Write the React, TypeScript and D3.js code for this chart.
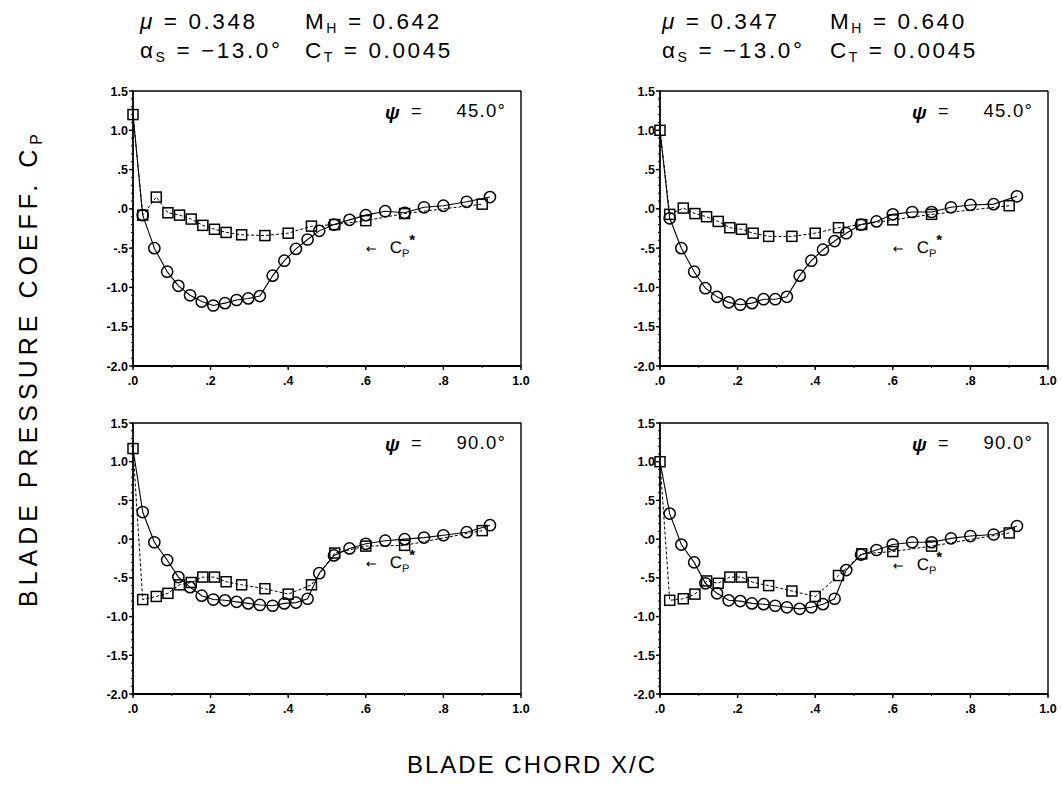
import React from "react";
import * as d3 from "d3";

// ---------- data ----------
const circleX = [0.025, 0.055, 0.088, 0.117, 0.147, 0.177, 0.207, 0.237, 0.267, 0.297, 0.327, 0.36, 0.39, 0.42, 0.45, 0.48, 0.518, 0.558, 0.6, 0.65, 0.7, 0.75, 0.8, 0.86, 0.92];
const squareX = [0.025, 0.06, 0.09, 0.12, 0.15, 0.18, 0.21, 0.24, 0.28, 0.34, 0.4, 0.46, 0.52, 0.6, 0.7, 0.9];

// psi = 45 deg
const circleCp45L = [-0.08, -0.5, -0.8, -0.98, -1.1, -1.18, -1.23, -1.2, -1.16, -1.14, -1.11, -0.85, -0.66, -0.51, -0.39, -0.28, -0.2, -0.14, -0.08, -0.03, -0.05, 0.02, 0.04, 0.09, 0.15];
const squareCp45L = [-0.08, 0.15, -0.05, -0.08, -0.13, -0.21, -0.26, -0.3, -0.33, -0.34, -0.31, -0.22, -0.2, -0.15, -0.06, 0.06];
const circleCp45R = [-0.12, -0.5, -0.8, -1.01, -1.12, -1.19, -1.22, -1.2, -1.15, -1.15, -1.12, -0.85, -0.66, -0.52, -0.41, -0.31, -0.2, -0.16, -0.07, -0.04, -0.04, 0.02, 0.05, 0.06, 0.16];
const squareCp45R = [-0.07, 0.01, -0.06, -0.1, -0.16, -0.24, -0.26, -0.31, -0.35, -0.35, -0.31, -0.24, -0.2, -0.14, -0.07, 0.04];

// psi = 90 deg
const circleCp90L = [0.35, -0.04, -0.27, -0.49, -0.62, -0.73, -0.78, -0.79, -0.81, -0.83, -0.85, -0.86, -0.83, -0.82, -0.77, -0.44, -0.21, -0.12, -0.06, -0.02, 0.0, 0.02, 0.05, 0.09, 0.18];
const squareCp90L = [-0.78, -0.74, -0.7, -0.59, -0.56, -0.49, -0.49, -0.55, -0.59, -0.64, -0.71, -0.59, -0.18, -0.09, -0.08, 0.11];
const circleCp90R = [0.33, -0.07, -0.3, -0.57, -0.7, -0.79, -0.8, -0.83, -0.84, -0.86, -0.88, -0.9, -0.88, -0.84, -0.77, -0.4, -0.2, -0.14, -0.07, -0.04, -0.04, 0.01, 0.04, 0.06, 0.17];
const squareCp90R = [-0.79, -0.77, -0.71, -0.54, -0.57, -0.49, -0.49, -0.56, -0.6, -0.67, -0.74, -0.47, -0.19, -0.16, -0.09, 0.08];

// leading-edge (x = 0) values: [45L, 45R, 90L, 90R]
const leadingEdgeCp = [1.2, 1.0, 1.17, 1.0];
// position of the "<- Cp*" note: [45L, 45R, 90L, 90R]
const cpStarCp = [-0.5, -0.5, -0.31, -0.33];
const cpStarX = 0.6;

const yTicks = [1.5, 1.0, 0.5, 0, -0.5, -1.0, -1.5, -2.0];
const xTicks = [0, 0.2, 0.4, 0.6, 0.8, 1.0];
const psiLabels = ["45.0°", "90.0°"];
const muLabels = ["0.348", "0.347"];
const mhLabels = ["0.642", "0.640"];
const alphaLabels = ["−13.0°", "−13.0°"];
const ctLabels = ["0.0045", "0.0045"];

// ---------- layout ----------
const W = 1062;
const H = 792;
const colX = [
  [133, 521],
  [660, 1048],
];
const rowY = [
  [91, 366],
  [423, 694],
];
const FONT = "'Liberation Sans', Arial, sans-serif";

function fmtY(v: number): string {
  if (v === 0) return ".0";
  const a = Math.abs(v);
  const s = a >= 1 ? a.toFixed(1) : a.toFixed(1).replace(/^0/, "");
  return (v < 0 ? "-" : "") + s;
}
function fmtX(v: number): string {
  if (v === 1) return "1.0";
  return v.toFixed(1).replace(/^0/, "");
}

type PanelProps = {
  col: number;
  row: number;
  circleCp: number[];
  squareCp: number[];
  le: number;
  psi: string;
  star: number;
};

function Panel({ col, row, circleCp, squareCp, le, psi, star }: PanelProps) {
  const [x0, x1] = colX[col];
  const [y0, y1] = rowY[row];
  const xs = d3.scaleLinear().domain([0, 1]).range([x0, x1]);
  const ys = d3.scaleLinear().domain([-2, 1.5]).range([y1, y0]);

  const circPts: [number, number][] = [[0, le], ...circleX.map((x, i) => [x, circleCp[i]] as [number, number])];
  const sqPts: [number, number][] = [[0, le], ...squareX.map((x, i) => [x, squareCp[i]] as [number, number])];
  const line = d3
    .line<[number, number]>()
    .x((d) => xs(d[0]))
    .y((d) => ys(d[1]));

  const yMinor = d3.range(-20, 16).map((i) => i / 10);
  const xMinor = d3.range(0, 11).map((i) => i / 10);

  return (
    <g>
      {/* frame */}
      <line x1={x0} y1={y0} x2={x1} y2={y0} stroke="#000" strokeWidth={1.4} />
      <line x1={x1} y1={y0} x2={x1} y2={y1} stroke="#000" strokeWidth={1.4} />
      <line x1={x0} y1={y0} x2={x0} y2={y1} stroke="#000" strokeWidth={1.8} />
      <line x1={x0} y1={y1} x2={x1} y2={y1} stroke="#000" strokeWidth={1.8} />
      {/* y ticks */}
      {yMinor.map((v) => (
        <line key={"ym" + v} x1={x0 - 2} x2={x0} y1={ys(v)} y2={ys(v)} stroke="#000" strokeWidth={1} />
      ))}
      {yTicks.map((v) => (
        <g key={"y" + v}>
          <line x1={x0 - 4} x2={x0} y1={ys(v)} y2={ys(v)} stroke="#000" strokeWidth={1.4} />
          <text x={x0 - 5} y={ys(v) + 4.5} textAnchor="end" fontSize={12.5} fontFamily={FONT} fontWeight="bold" fill="#000">
            {fmtY(v)}
          </text>
        </g>
      ))}
      {/* x ticks */}
      {xMinor.map((v) => (
        <line key={"xm" + v} x1={xs(v)} x2={xs(v)} y1={y1} y2={y1 + 2} stroke="#000" strokeWidth={1} />
      ))}
      {xTicks.map((v) => (
        <g key={"x" + v}>
          <line x1={xs(v)} x2={xs(v)} y1={y1} y2={y1 + 4} stroke="#000" strokeWidth={1.4} />
          <text x={xs(v)} y={y1 + 19} textAnchor="middle" fontSize={12.5} fontFamily={FONT} fontWeight="bold" fill="#000">
            {fmtX(v)}
          </text>
        </g>
      ))}
      {/* series lines */}
      <path d={line(sqPts) || ""} fill="none" stroke="#000" strokeWidth={1} strokeDasharray="3 2" />
      <path d={line(circPts) || ""} fill="none" stroke="#000" strokeWidth={1.1} />
      {/* markers */}
      {sqPts.map((d, i) => (
        <rect key={"s" + i} x={xs(d[0]) - 5} y={ys(d[1]) - 5} width={10} height={10} fill="none" stroke="#000" strokeWidth={1.5} />
      ))}
      {circPts.slice(1).map((d, i) => (
        <circle key={"c" + i} cx={xs(d[0])} cy={ys(d[1])} r={5.6} fill="none" stroke="#000" strokeWidth={1.5} />
      ))}
      {/* psi label */}
      <g fontFamily={FONT} fill="#000">
        <text x={x1 - 136} y={y0 + 28} fontSize={19} fontStyle="italic" fontWeight="bold">ψ</text>
        <text x={x1 - 110} y={y0 + 26} fontSize={18}>=</text>
        <text x={x1 - 15} y={y0 + 26} fontSize={18.5} textAnchor="end" letterSpacing={1.2}>{psi}</text>
      </g>
      {/* Cp* note */}
      <text x={xs(cpStarX)} y={ys(star) + 5} fontSize={17} fontFamily={FONT} fill="#000" textRendering="geometricPrecision">
        <tspan fontFamily="'DejaVu Sans', sans-serif" fontSize={13}>←</tspan>
        <tspan dx={13}>C</tspan>
        <tspan fontSize={11} dy={4}>P</tspan>
        <tspan fontSize={15} fontWeight="bold" dy={-12}>*</tspan>
      </text>
    </g>
  );
}

function Header({ col }: { col: number }) {
  const xa = col === 0 ? 140 : 662;
  const xb = col === 0 ? 305 : 830;
  const fs = 22.5;
  const ls = 2.6;
  return (
    <g fontFamily={FONT} fontSize={fs} letterSpacing={ls} fill="#000">
      <text x={xa} y={29}>
        <tspan fontStyle="italic">μ</tspan>
        {" = " + muLabels[col]}
      </text>
      <text x={xb} y={29}>
        M<tspan fontSize={14} dy={4}>H</tspan>
        <tspan dy={-4}>{" = " + mhLabels[col]}</tspan>
      </text>
      <text x={xa} y={58}>
        α<tspan fontSize={14} dy={4}>S</tspan>
        <tspan dy={-4}>{" = " + alphaLabels[col]}</tspan>
      </text>
      <text x={xb} y={58}>
        C<tspan fontSize={14} dy={4}>T</tspan>
        <tspan dy={-4}>{" = " + ctLabels[col]}</tspan>
      </text>
    </g>
  );
}

export default function App() {
  return (
    <svg width={W} height={H} style={{ position: "absolute", left: 0, top: 0, background: "#fff" }}>
      <rect x={0} y={0} width={W} height={H} fill="#fff" />
      <Header col={0} />
      <Header col={1} />
      <Panel col={0} row={0} circleCp={circleCp45L} squareCp={squareCp45L} le={leadingEdgeCp[0]} psi={psiLabels[0]} star={cpStarCp[0]} />
      <Panel col={1} row={0} circleCp={circleCp45R} squareCp={squareCp45R} le={leadingEdgeCp[1]} psi={psiLabels[0]} star={cpStarCp[1]} />
      <Panel col={0} row={1} circleCp={circleCp90L} squareCp={squareCp90L} le={leadingEdgeCp[2]} psi={psiLabels[1]} star={cpStarCp[2]} />
      <Panel col={1} row={1} circleCp={circleCp90R} squareCp={squareCp90R} le={leadingEdgeCp[3]} psi={psiLabels[1]} star={cpStarCp[3]} />
      <text
        transform="translate(37,368) rotate(-90)"
        textAnchor="middle"
        fontFamily={FONT}
        fontSize={25}
        letterSpacing={5}
        fill="#000"
      >
        BLADE PRESSURE COEFF. C<tspan fontSize={16} dy={5}>P</tspan>
      </text>
      <text x={532} y={773} textAnchor="middle" fontFamily={FONT} fontSize={24} letterSpacing={2} fill="#000">
        BLADE CHORD X/C
      </text>
    </svg>
  );
}
